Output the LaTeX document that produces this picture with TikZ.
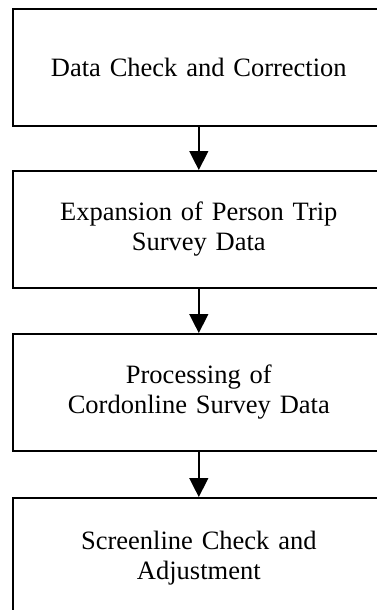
\documentclass[tikz,border=0pt]{standalone}
\usepackage{fontspec}
\setmainfont{Liberation Serif}[WordSpace=0.8]
\usetikzlibrary{arrows.meta}
\begin{document}
\begin{tikzpicture}[x=1pt,y=-1pt,
  stepbox/.style={draw=black,line width=1.6pt,minimum width=372pt,minimum height=117pt,anchor=north west,inner sep=0pt,
    font=\fontsize{26.5}{30}\selectfont,align=center,text width=360pt},
  flow/.style={line width=1.4pt,-{Triangle[width=19pt,length=19pt]}}]
\useasboundingbox (0,0) rectangle (377,610);
\clip (0,0) rectangle (377,610);
\node[stepbox] (b1) at (12,8) {Data Check and Correction};
\node[stepbox] (b2) at (12,170) {Expansion of Person Trip\\Survey Data};
\node[stepbox] (b3) at (12,333) {Processing of\\Cordonline Survey Data};
\node[stepbox,minimum height=120pt] (b4) at (12,497) {Screenline Check and\\Adjustment};
\draw[flow] (b1.south) -- (b2.north);
\draw[flow] (b2.south) -- (b3.north);
\draw[flow] (b3.south) -- (b4.north);
\end{tikzpicture}
\end{document}
